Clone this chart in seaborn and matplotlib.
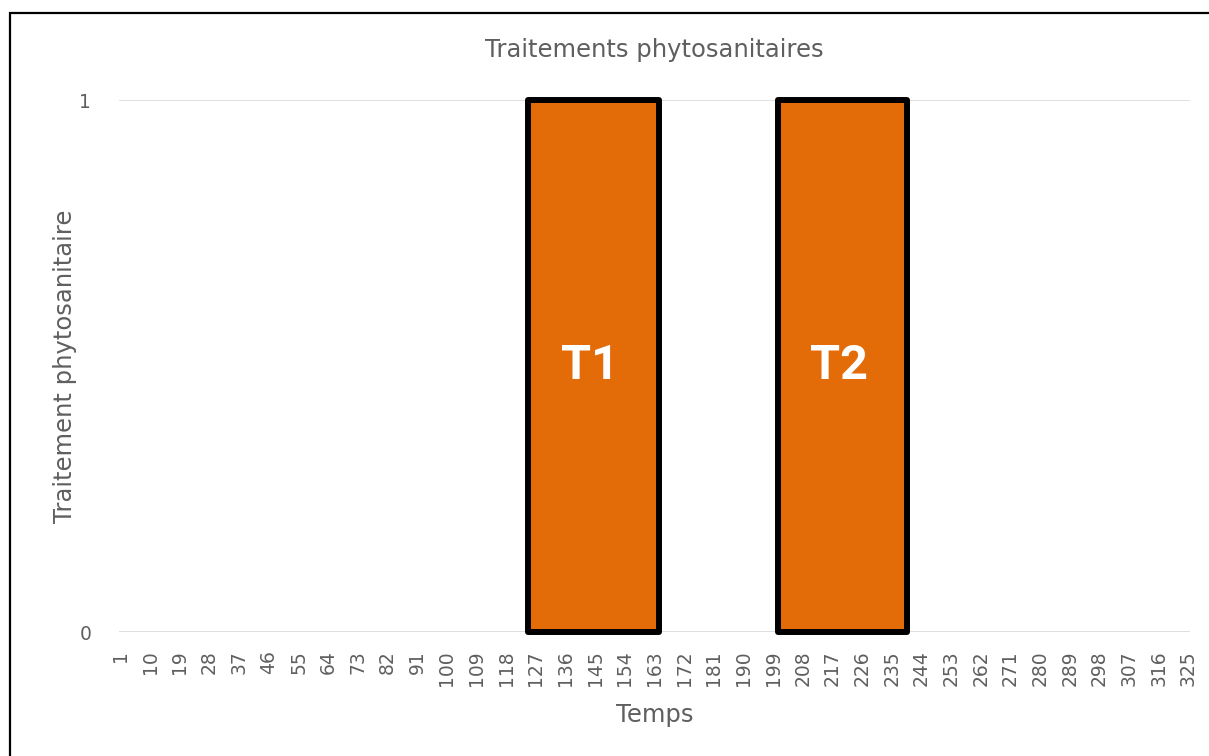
import numpy as np
import matplotlib.pyplot as plt
import matplotlib.patches as mpatches
import seaborn as sns

# axe du temps (jours) et periodes de traitement
jours = list(range(1, 326))
etiquettes_jours = list(range(1, 326, 9))
traitements = ["T1", "T2"]
debut = [125, 201]
fin = [164, 239]
valeur = [1, 1]

ORANGE = "#E36C09"
GRIS = "#5F5F5F"


def main():
    sns.set_theme(style="white")
    plt.rcParams["font.family"] = ["DejaVu Sans"]

    fig = plt.figure(figsize=(12.09, 7.56), dpi=100)
    ax = fig.add_axes([119 / 1209, 1 - 632 / 756, (1190 - 119) / 1209, (632 - 100) / 756])

    # barres des traitements (une par periode)
    gauche = np.array(debut) - 0.5
    largeur = np.array(fin) - np.array(debut) + 1
    barres = ax.bar(gauche, valeur, width=largeur, align="edge", color=ORANGE,
                    edgecolor="black", linewidth=4.3, zorder=3, clip_on=False)
    for b in barres:
        b.set_joinstyle("round")

    for nom, d, f, v in zip(traitements, debut, fin, valeur):
        ax.text((d + f) / 2 - 1, v / 2, nom, ha="center", va="center", color="white",
                fontsize=35, fontweight="bold", family=["Roboto", "DejaVu Sans"], zorder=4)

    ax.set_xlim(jours[0] - 0.5, jours[-1] + 0.5)
    ax.set_ylim(0, 1)
    ax.set_yticks([0, 1])
    ax.set_xticks(etiquettes_jours)
    ax.set_xticklabels([str(j) for j in etiquettes_jours], rotation=90)
    ax.tick_params(axis="both", length=0, colors=GRIS, labelsize=13.5)
    ax.tick_params(axis="x", pad=13)
    ax.tick_params(axis="y", pad=20)

    ax.grid(False)
    for y in [0, 1]:
        ax.axhline(y, color="#D9D9D9", linewidth=1.2, zorder=1)
    sns.despine(ax=ax, left=True, bottom=True)

    ax.set_title("Traitements phytosanitaires", color=GRIS, fontsize=17.5, pad=31)
    ax.set_xlabel("Temps", color=GRIS, fontsize=17.5, labelpad=12)
    ax.set_ylabel("Traitement phytosanitaire", color=GRIS, fontsize=17.5, labelpad=2)

    # cadre du graphique
    cadre = mpatches.Rectangle((10 / 1209, -0.05), 1.1, 0.05 + 1 - 13 / 756,
                               transform=fig.transFigure, fill=False,
                               edgecolor="black", linewidth=1.6, clip_on=False)
    fig.patches.append(cadre)

    fig.savefig("out.png", dpi=100)
    plt.close(fig)


if __name__ == "__main__":
    main()
